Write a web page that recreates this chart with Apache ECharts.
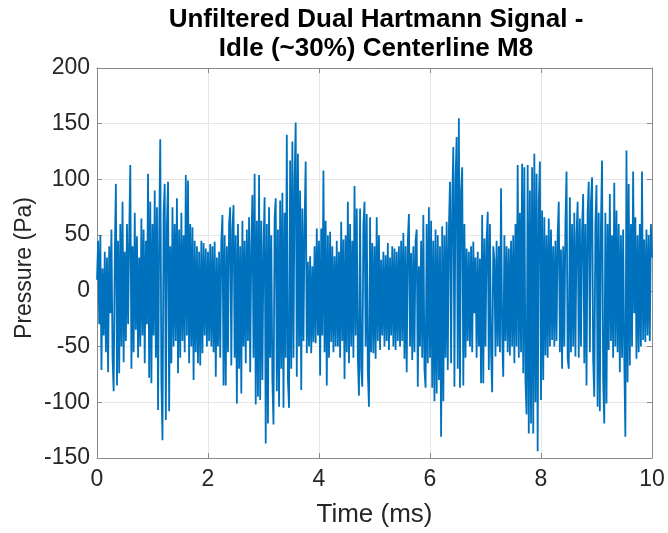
<!DOCTYPE html>
<html>
<head>
<meta charset="utf-8">
<script src="https://cdn.jsdelivr.net/npm/echarts@6/dist/echarts.min.js"></script>
<style>
html,body{margin:0;padding:0;background:#fff;}
#chart{width:668px;height:533px;}
</style>
</head>
<body>
<div id="chart"></div>
<script>
// Sample spacing (ms) of the pressure record
const sampleStep = 0.02;
// Pressure samples (Pa), 0.5 ms per row
const pressure = [
  10, 45, -30, 50, -71, 20, -40, 35, -55, 30, -73, 40, -20, 55, -60, -90, 30, 96, -85, 45, -74, 60, -50, 80, -64,
  35, -45, 60, -30, 50, 113, -70, 40, -55, 70, -35, 49, -60, 30, -50, 65, -40, 55, -65, 45, -30, 105, -78, 80, -83,
  60, -40, 90, -60, 75, -107, 50, 136, -80, -134, 70, 96, -116, 60, 98, -108, 40, -65, 75, -50, 60, -45, 83, -74, 55,
  -60, 70, -45, 50, -55, 104, -40, 99, -65, 60, -50, 57, -80, 45, -55, 40, -65, 35, -67, 45, -56, 43, -40, 38, -50,
  35, -45, 42, -50, 40, -55, 44, -77, 30, -50, 35, -60, 45, 68, -85, 50, -85, 40, -55, 60, 75, -67, 55, 77, -60,
  50, -101, 60, -70, 40, -92, 63, -50, 45, -65, 55, -45, 66, -73, 40, 86, -60, 105, -102, 63, -95, 104, -98, 63, -80,
  40, 84, -137, 60, -119, 75, -60, 50, -80, -120, 65, 83, -90, 55, -104, 81, -70, 88, -105, 70, -60, 140, -80, -105, 117,
  -70, 134, -60, 100, 151, -77, 123, -50, 90, -89, 74, -45, 60, 116, -56, 26, -50, 31, -56, 22, -46, 40, -47, 56, -40,
  45, -76, 56, -40, 108, -55, 63, -85, 50, -60, 53, -46, 40, -55, 31, -50, 45, -50, 35, -60, 62, -45, 46, -79, 50,
  -55, 80, -65, 60, -50, 45, -60, 94, -40, 74, -60, -94, 74, -70, -86, 60, 80, -50, 69, -73, -104, 66, -55, 43, -56,
  40, -61, 66, -45, 50, -53, 28, -40, 35, -50, 32, -45, 43, -53, 30, -40, 40, -50, 38, -53, 35, -45, 40, -50, 45,
  -45, 52, -61, 40, -73, 45, 69, -50, 34, -62, 40, -55, 45, 55, -86, 22, -50, 45, -60, 68, -70, -87, 60, -65, 75,
  -60, 63, -87, 45, -99, 55, -92, 50, -80, 40, -131, 58, -99, 50, -60, 62, -71, 55, 98, -65, 80, 129, -86, 100, 138,
  -70, 155, -87, 90, 111, -85, 60, -60, 38, -45, 35, -50, 40, -55, 44, -20, 30, -60, 35, -50, 29, -83, 68, -83, 47,
  -50, 45, 71, -71, 60, -55, -91, 40, 28, -59, 45, -50, 40, -55, 92, -40, -77, 50, -45, 40, -55, 38, -58, 45, -50,
  50, -65, 60, -50, 113, -60, 70, -55, 114, -74, 111, -80, -111, 113, -128, 90, -119, 111, -128, 123, -100, 105, -144, 80, 116,
  -98, 72, -80, 66, -58, 50, -60, 65, -50, 55, -44, 40, -50, 45, -45, 50, 80, -55, 37, -70, 40, -50, 60, 107, -60,
  -70, 84, -55, 60, -50, 70, -59, 50, 80, -60, 65, -50, 55, 87, -65, 60, -85, 70, 98, -55, 80, 102, -62, -95, 60,
  95, -104, 70, -108, 60, 117, -80, -119, 70, -101, 60, -53, 87, -45, 50, -60, 97, -50, 72, -55, 60, -73, 50, -60, 55,
  -60, -131, 126, -82, 96, -67, 60, -50, 107, -20, 66, -61, 50, -55, 60, -50, 107, -44, 46, -46, 55, -40, 50, -45, 60,
  30
];
const xTicks = [0, 2, 4, 6, 8, 10];
const yTicks = [-150, -100, -50, 0, 50, 100, 150, 200];
const titleLines = ['Unfiltered Dual Hartmann Signal -', 'Idle (~30%) Centerline M8'];
const xName = 'Time (ms)';
const yName = 'Pressure (Pa)';

const seriesData = pressure.map((v, i) => [Number((i * sampleStep).toFixed(4)), v]);

const chart = echarts.init(document.getElementById('chart'), null, {renderer: 'canvas'});
const FONT = '"Liberation Sans", Arial, Helvetica, sans-serif';
const axisCol = '#8a8a8a';
const txtCol = '#262626';

const baseX = {
  type: 'value', min: xTicks[0], max: xTicks[xTicks.length - 1], interval: 2
};
const baseY = {
  type: 'value', min: yTicks[0], max: yTicks[yTicks.length - 1], interval: 50
};

chart.setOption({
  animation: false,
  backgroundColor: '#ffffff',
  grid: {left: 97, right: 16, top: 68, bottom: 75, containLabel: false},
  graphic: [{
    type: 'text', x: 376, y: 5,
    style: {
      text: titleLines.join('\n'),
      font: 'bold 26px ' + FONT,
      fill: '#000000',
      align: 'center', verticalAlign: 'top',
      lineHeight: 29
    }
  }, {
    type: 'text', x: 25, y: 268, rotation: Math.PI / 2,
    style: {
      text: yName,
      font: '23px ' + FONT,
      fill: txtCol,
      align: 'center', verticalAlign: 'middle'
    }
  }],
  xAxis: [
    Object.assign({}, baseX, {
      position: 'bottom',
      name: xName, nameLocation: 'middle', nameGap: 44,
      nameTextStyle: {fontFamily: FONT, fontSize: 26, color: txtCol},
      axisLine: {show: true, onZero: false, lineStyle: {color: axisCol, width: 1}},
      axisTick: {show: true, inside: true, length: 5, lineStyle: {color: axisCol}},
      axisLabel: {fontFamily: FONT, fontSize: 23, color: txtCol, margin: 10},
      splitLine: {show: true, lineStyle: {color: '#e6e6e6', width: 1}}
    }),
    Object.assign({}, baseX, {
      position: 'top',
      axisLine: {show: true, onZero: false, lineStyle: {color: axisCol, width: 1}},
      axisTick: {show: true, inside: true, length: 5, lineStyle: {color: axisCol}},
      axisLabel: {show: false},
      splitLine: {show: false}
    })
  ],
  yAxis: [
    Object.assign({}, baseY, {
      position: 'left',
      axisLine: {show: true, onZero: false, lineStyle: {color: axisCol, width: 1}},
      axisTick: {show: true, inside: true, length: 5, lineStyle: {color: axisCol}},
      axisLabel: {fontFamily: FONT, fontSize: 23, color: txtCol, margin: 7},
      splitLine: {show: true, lineStyle: {color: '#e6e6e6', width: 1}}
    }),
    Object.assign({}, baseY, {
      position: 'right',
      axisLine: {show: true, onZero: false, lineStyle: {color: axisCol, width: 1}},
      axisTick: {show: true, inside: true, length: 5, lineStyle: {color: axisCol}},
      axisLabel: {show: false},
      splitLine: {show: false}
    })
  ],
  series: [{
    type: 'line',
    xAxisIndex: 0, yAxisIndex: 0,
    data: seriesData,
    showSymbol: false,
    symbol: 'none',
    sampling: null,
    lineStyle: {color: '#0072BD', width: 1.8},
    emphasis: {disabled: true}
  }]
});
</script>
</body>
</html>
